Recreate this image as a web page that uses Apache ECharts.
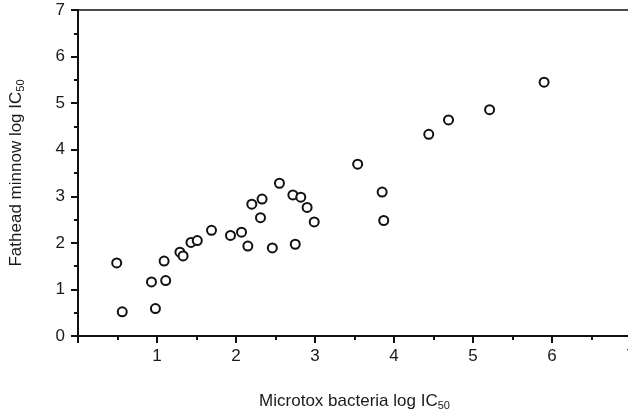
<!DOCTYPE html>
<html>
<head>
<meta charset="utf-8">
<script src="https://cdn.jsdelivr.net/npm/echarts@6/dist/echarts.min.js"></script>
<style>
html,body{margin:0;padding:0;background:#fff;}
#c{width:628px;height:410px;}
</style>
</head>
<body>
<div id="c"></div>
<script>
// Microtox bacteria log IC50 (x) vs Fathead minnow log IC50 (y)
const microtoxLogIC50 = [0.49, 0.56, 0.93, 0.98, 1.09, 1.11, 1.29, 1.33, 1.43, 1.51, 1.69, 1.93, 2.07, 2.15, 2.20, 2.31, 2.33, 2.46, 2.55, 2.72, 2.75, 2.82, 2.90, 2.99, 3.54, 3.85, 3.87, 4.44, 4.69, 5.21, 5.90];
const minnowLogIC50   = [1.57, 0.52, 1.16, 0.59, 1.61, 1.19, 1.80, 1.72, 2.01, 2.05, 2.27, 2.16, 2.23, 1.93, 2.83, 2.54, 2.94, 1.89, 3.28, 3.03, 1.97, 2.98, 2.76, 2.45, 3.69, 3.09, 2.48, 4.33, 4.64, 4.86, 5.45];
const xTickLabels = ['', '1', '2', '3', '4', '5', '6', '7'];
const yTickLabels = ['0', '1', '2', '3', '4', '5', '6', '7'];

const points = microtoxLogIC50.map((x, i) => [x, minnowLogIC50[i]]);
const FONT = '"Liberation Sans", Arial, Helvetica, sans-serif';
const TXT = '#1a1a1a';

const chart = echarts.init(document.getElementById('c'), null, {renderer: 'canvas'});
chart.setOption({
  backgroundColor: '#fff',
  animation: false,
  grid: {left: 78, top: 10, right: -3, bottom: 74, containLabel: false, outerBoundsMode: 'none'},
  xAxis: [{
    type: 'value', min: 0, max: 7, interval: 1,
    position: 'bottom',
    axisLine: {show: true, onZero: false, lineStyle: {color: '#111', width: 2}},
    axisTick: {show: true, length: 7, lineStyle: {color: '#111', width: 2}},
    minorTick: {show: true, splitNumber: 2, length: 4, lineStyle: {color: '#111', width: 2}},
    splitLine: {show: false},
    axisLabel: {margin: 12, fontSize: 17, color: TXT, fontFamily: FONT,
      formatter: v => xTickLabels[Math.round(v)] ?? ''},
    name: '{a|Microtox bacteria log IC}{s|50}',
    nameLocation: 'middle', nameGap: 56,
    nameTextStyle: {rich: {
      a: {fontSize: 17, color: TXT, fontFamily: FONT},
      s: {fontSize: 11, color: TXT, fontFamily: FONT, padding: [8, 0, 0, 0]}
    }}
  }, {
    type: 'value', min: 0, max: 7, interval: 1, position: 'top',
    axisLine: {show: true, onZero: false, lineStyle: {color: '#111', width: 1.5}},
    axisTick: {show: false}, axisLabel: {show: false}, splitLine: {show: false}
  }],
  yAxis: {
    type: 'value', min: 0, max: 7, interval: 1,
    axisLine: {show: true, onZero: false, lineStyle: {color: '#111', width: 2}},
    axisTick: {show: true, length: 7, lineStyle: {color: '#111', width: 2}},
    minorTick: {show: true, splitNumber: 2, length: 4, lineStyle: {color: '#111', width: 2}},
    splitLine: {show: false},
    axisLabel: {margin: 13, fontSize: 17, color: TXT, fontFamily: FONT,
      formatter: v => yTickLabels[Math.round(v)] ?? ''},
    name: '{a|Fathead minnow log IC}{s|50}',
    nameLocation: 'middle', nameGap: 52, nameRotate: 90,
    nameTextStyle: {rich: {
      a: {fontSize: 17, color: TXT, fontFamily: FONT},
      s: {fontSize: 11, color: TXT, fontFamily: FONT, padding: [8, 0, 0, 0]}
    }}
  },
  series: [{
    type: 'scatter',
    xAxisIndex: 0,
    data: points,
    symbol: 'circle',
    symbolSize: 9,
    itemStyle: {color: '#fff', borderColor: '#111', borderWidth: 2, opacity: 1},
    emphasis: {disabled: true}
  }]
});
</script>
</body>
</html>
